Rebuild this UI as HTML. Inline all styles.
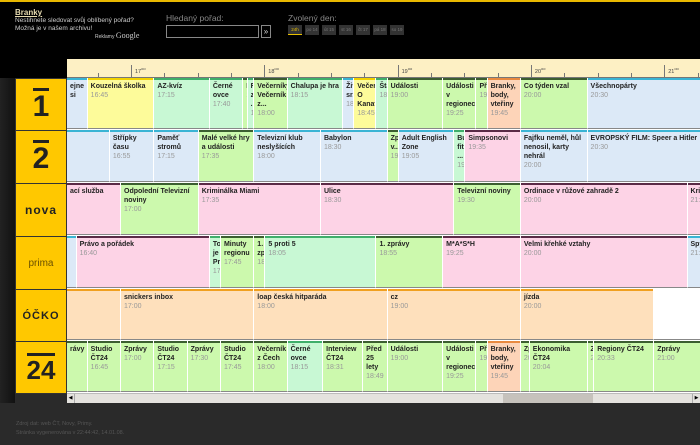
<!DOCTYPE html>
<html><head><meta charset="utf-8">
<style>
*{margin:0;padding:0;box-sizing:border-box}
body{width:700px;height:445px;overflow:hidden;background:#2a2a2a;font-family:"Liberation Sans","DejaVu Sans",sans-serif;position:relative}
#top{position:absolute;left:0;top:0;width:700px;height:78px;background:#000;border-top:2px solid #e8b800}
#leftdark{position:absolute;left:0;top:78px;width:15px;height:325px;background:linear-gradient(90deg,#222,#111)}
.abs{position:absolute}
.sm{font-size:6.5px;color:#ccc;line-height:8px}
.day{position:absolute;top:23px;height:10px;width:14px;background:#333;color:#777;font-size:4.5px;line-height:10px;text-align:center}
#tl{position:absolute;left:67px;top:59px;width:633px;height:19px;background:#fdf0c4;overflow:hidden;border-bottom:1px solid #777}
.tick{position:absolute;bottom:0;width:1px;background:#777}
.hl{position:absolute;top:7px;font-size:5.5px;color:#444}
.logo{position:absolute;left:15px;width:52px;background:#ffc800;border:1px solid #333;display:flex;align-items:center;justify-content:center;color:#222;font-weight:bold}
#grid{position:absolute;left:67px;top:78px;width:633px;height:315px;overflow:hidden;background:#fff}
.p{position:absolute;overflow:hidden;border-right:1px solid #fff;padding:4px 0 0 3px;font-size:7px;line-height:9px;color:#222;font-weight:bold}
.p i{display:block;font-style:normal;font-weight:normal;color:#999}
.stripe{position:absolute;left:0;top:0;right:0;height:2px}
#sb{position:absolute;left:67px;top:393px;width:633px;height:10px;background:#e4e2de;border-top:1px solid #bbb}
</style></head><body>
<div id="top">
 <div class="abs" style="left:15px;top:6px;font-size:8px;font-weight:bold;color:#e8dcb0;text-decoration:underline">Branky</div>
 <div class="abs sm" style="left:15px;top:15px">Nestihnete sledovat svůj oblíbený pořad?<br>Možná je v našem archivu!</div>
 <div class="abs" style="left:95px;top:29px;font-size:5px;color:#ccc">Reklamy <span style="font-size:8px;font-family:'Liberation Serif',serif">Google</span></div>
 <div class="abs" style="left:166px;top:11px;font-size:8.5px;color:#888">Hledaný pořad:</div>
 <div class="abs" style="left:166px;top:23px;width:93px;height:13px;border:1px solid #888;background:#000"></div>
 <div class="abs" style="left:261px;top:23px;width:10px;height:13px;border:1px solid #888;color:#ddd;font-size:8px;line-height:11px;text-align:center">»</div>
 <div class="abs" style="left:288px;top:11px;font-size:8.5px;color:#888">Zvolený den:</div>
 <div class="day" style="left:288px;color:#e8c000;border-bottom:1px solid #e8c000">24h</div>
 <div class="day" style="left:305px">po 14</div>
 <div class="day" style="left:322px">út 15</div>
 <div class="day" style="left:339px">st 16</div>
 <div class="day" style="left:356px">čt 17</div>
 <div class="day" style="left:373px">pá 18</div>
 <div class="day" style="left:390px">so 19</div>
</div>
<div id="leftdark"></div>
<div id="tl"></div>
<div class="logo" style="top:78px;height:53px;font-size:30px;line-height:1"><span style="border-top:3px solid #222;padding-top:1px">1</span></div>
<div class="logo" style="top:130px;height:54px;font-size:30px;line-height:1"><span style="border-top:3px solid #222;padding-top:1px">2</span></div>
<div class="logo" style="top:183px;height:54px;font-size:12px;letter-spacing:1px">nova</div>
<div class="logo" style="top:236px;height:54px;font-size:10px;font-weight:normal;color:#6a5000">prima</div>
<div class="logo" style="top:289px;height:53px;font-size:11px;letter-spacing:1px">ÓČKO</div>
<div class="logo" style="top:341px;height:53px;font-size:26px;line-height:1"><span style="border-top:3px solid #222;padding-top:1px">24</span></div>
<div id="grid"></div>
<div id="sb">
 <div class="abs" style="left:0;top:0;width:8px;height:9px;border-right:1px solid #aaa;font-size:5px;text-align:center;line-height:9px">◀</div>
 <div class="abs" style="left:436px;top:0;width:90px;height:9px;background:#c6c2bc"></div>
 <div class="abs" style="right:0;top:0;width:8px;height:9px;border-left:1px solid #aaa;font-size:5px;text-align:center;line-height:9px">▶</div>
</div>
<div class="abs" style="left:16px;top:420px;font-size:5.5px;color:#555;line-height:9px">Zdroj dat: web ČT, Novy, Primy.<br>Stránka vygenerována v 22:44:42, 14.01.08.</div>
<script>
var hours=["17","18","19","20","21"];
var hourMins=[1020,1080,1140,1200,1260];
var ct1=[["ejne si","16:30","b"],["Kouzelná školka","16:45","y"],["AZ-kvíz","17:15","m"],["Černé ovce","17:40","m"],["P","17:55","g"],["Fi z ...","17:57","m"],["Večerníky Večerník z...","18:00","g"],["Chalupa je hra","18:15","m"],["Živ sr..","18:40","b"],["Večerníček O Kanafá","18:45","y"],["Šta","18:55","m"],["Události","19:00","g"],["Události v regionech","19:25","g"],["Pře","19:40","g"],["Branky, body, vteřiny","19:45","o"],["Co týden vzal","20:00","g"],["Všechnopárty","20:30","b"]];
var ct2=[["","16:20","b"],["Střípky času","16:55","b"],["Paměť stromů","17:15","b"],["Malé velké hry a události","17:35","g"],["Televizní klub neslyšících","18:00","b"],["Babylon","18:30","b"],["Zpr v...","19:00","g"],["Adult English Zone","19:05","b"],["Bu fit ...","19:30","m"],["Simpsonovi","19:35","p"],["Fajfku neměl, hůl nenosil, karty nehrál","20:00","b"],["EVROPSKÝ FILM: Speer a Hitler","20:30","b"]];
var nova=[["ací služba","16:05","p"],["Odpolední Televizní noviny","17:00","g"],["Kriminálka Miami","17:35","p"],["Ulice","18:30","p"],["Televizní noviny","19:30","g"],["Ordinace v růžové zahradě 2","20:00","p"],["Krim","21:15","p"]];
var prima=[["","16:30","b"],["Právo a pořádek","16:40","p"],["To je Pri","17:40","m"],["Minuty regionu","17:45","g"],["1. zpr","18:00","g"],["5 proti 5","18:05","m"],["1. zprávy","18:55","g"],["M*A*S*H","19:25","p"],["Velmi křehké vztahy","20:00","p"],["Spy","21:15","b"]];
var ocko=[["","16:00","c"],["snickers inbox","17:00","c"],["loap česká hitparáda","18:00","c"],["cz","19:00","c"],["jízda","20:00","c"],["","21:00","w"]];
var ct24=[["rávy","16:30","g"],["Studio ČT24","16:45","g"],["Zprávy","17:00","g"],["Studio ČT24","17:15","g"],["Zprávy","17:30","g"],["Studio ČT24","17:45","g"],["Večerník z Čech","18:00","g"],["Černé ovce","18:15","m"],["Interview ČT24","18:31","g"],["Před 25 lety","18:49","g"],["Události","19:00","g"],["Události v regionech","19:25","g"],["Pře","19:40","g"],["Branky, body, vteřiny","19:45","o"],["Zp","20:00","g"],["Ekonomika ČT24","20:04","g"],["Zj","20:30","g"],["Regiony ČT24","20:33","g"],["Zprávy","21:00","g"]];
var rows=[["ct1",ct1,0,52],["ct2",ct2,52,53],["nova",nova,105,53],["prima",prima,158,53],["ocko",ocko,211,52],["ct24",ct24,263,52]];
var fill={b:"#dce9f7",y:"#fdfb9a",m:"#c8f8d4",g:"#ccf9ad",o:"#fdd4b8",p:"#fdd3e6",c:"#fee0bc",w:"#ffffff"};
var strip={b:"#3ab4d4",y:"#f2d200",m:"#3fae6a",g:"#3b5e30",o:"#e88a40",p:"#5a2a46",c:"#f0a020",w:"#ffffff"};
function mins(s){var a=s.split(":");return +a[0]*60+ +a[1];}
function xP(m){return 121+(m-1020)*133.3/60-67;}
function xT(m){return 131+(m-1020)*133.3/60-67;}
var tl=document.getElementById('tl');
for(var m=960;m<=1290;m+=15){
 var t=document.createElement('div');t.className='tick';
 
 
 t.style.left=xT(m)+'px';t.style.height=(m%60==0?12:4)+'px';tl.appendChild(t);}
hours.forEach(function(h,i){var l=document.createElement('div');l.className='hl';
 
 
 l.style.left=(xT(hourMins[i])+4)+'px';l.innerHTML=h+'<sup style="font-size:4px">oo</sup>';tl.appendChild(l);});
var g=document.getElementById('grid');
rows.forEach(function(r){
 var list=r[1];
 for(var i=0;i<list.length;i++){
  var s=mins(list[i][1]);var e=i+1<list.length?mins(list[i+1][1]):1320;
  var x0=Math.max(xP(s),0),x1=xP(e);
  var d=document.createElement('div');d.className='p';
  
  
  d.style.left=x0+'px';d.style.width=(x1-x0)+'px';d.style.top=r[2]+'px';d.style.height=(r[3]-1)+'px';
  var c=list[i][2];d.style.background=fill[c];
  d.style.borderBottom='1px solid #888';
  var st=document.createElement('div');st.className='stripe';st.style.background=strip[c];d.appendChild(st);
  if(list[i][0]){var tt=document.createElement('span');tt.textContent=list[i][0];d.appendChild(tt);
   if(xP(s)>=0){var ti=document.createElement('i');ti.textContent=list[i][1];d.appendChild(ti);}}
  g.appendChild(d);
 }
});
</script>
</body></html>
